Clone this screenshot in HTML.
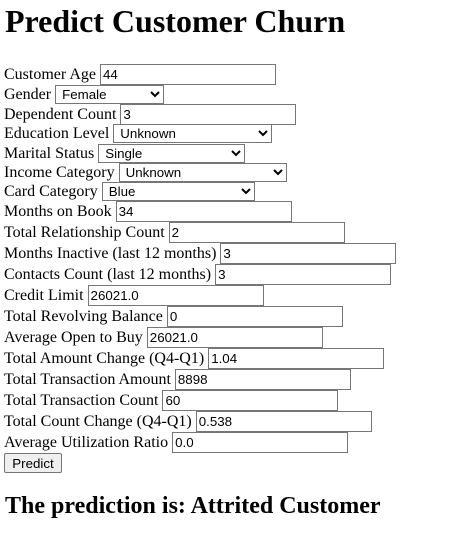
<!DOCTYPE html>
<html><head><meta charset="utf-8"><style>
body{margin:0;width:476px;height:544px;position:relative;font-family:"Liberation Serif",serif;font-size:16px;color:#000;background:#fff;overflow:hidden}
h1{position:absolute;left:5px;top:3px;margin:0;font-size:32px;font-weight:bold;line-height:37px;white-space:nowrap}
h2{position:absolute;left:5px;top:492px;margin:0;font-size:24px;font-weight:bold;line-height:28px;white-space:nowrap}
.row{position:absolute;left:4px;white-space:nowrap;line-height:21px}
input{font-family:"Liberation Sans",sans-serif;font-size:13.33px;border:1px solid #767676;padding:1px 2px;width:170px;height:17px;box-sizing:content-box;margin:0;vertical-align:baseline}
select{font-family:"Liberation Sans",sans-serif;font-size:13.33px;border:1px solid #767676;border-radius:0;height:19px;margin:0;padding:0 2px;background:#fff;vertical-align:baseline}
button{position:absolute;left:4px;top:453px;width:58px;height:20px;font-family:"Liberation Sans",sans-serif;font-size:13.33px;background:#efefef;border:1px solid #767676;border-radius:2px;padding:0}
</style></head><body>
<h1>Predict Customer Churn</h1>
<div class="row" style="top:64px">Customer Age <input value="44"></div>
<div class="row" style="top:84px">Gender <select style="width:109px"><option>Female</option></select></div>
<div class="row" style="top:104px">Dependent Count <input value="3"></div>
<div class="row" style="top:123px">Education Level <select style="width:159px"><option>Unknown</option></select></div>
<div class="row" style="top:143px">Marital Status <select style="width:147px"><option>Single</option></select></div>
<div class="row" style="top:162px">Income Category <select style="width:168px"><option>Unknown</option></select></div>
<div class="row" style="top:181px">Card Category <select style="width:153px"><option>Blue</option></select></div>
<div class="row" style="top:201px">Months on Book <input value="34"></div>
<div class="row" style="top:222px">Total Relationship Count <input value="2"></div>
<div class="row" style="top:243px">Months Inactive (last 12 months) <input value="3"></div>
<div class="row" style="top:264px">Contacts Count (last 12 months) <input value="3"></div>
<div class="row" style="top:285px">Credit Limit <input value="26021.0"></div>
<div class="row" style="top:306px">Total Revolving Balance <input value="0"></div>
<div class="row" style="top:327px">Average Open to Buy <input value="26021.0"></div>
<div class="row" style="top:348px">Total Amount Change (Q4-Q1) <input value="1.04"></div>
<div class="row" style="top:369px">Total Transaction Amount <input value="8898"></div>
<div class="row" style="top:390px">Total Transaction Count <input value="60"></div>
<div class="row" style="top:411px">Total Count Change (Q4-Q1) <input value="0.538"></div>
<div class="row" style="top:432px">Average Utilization Ratio <input value="0.0"></div>
<button>Predict</button>
<h2>The prediction is: Attrited Customer</h2>
</body></html>
